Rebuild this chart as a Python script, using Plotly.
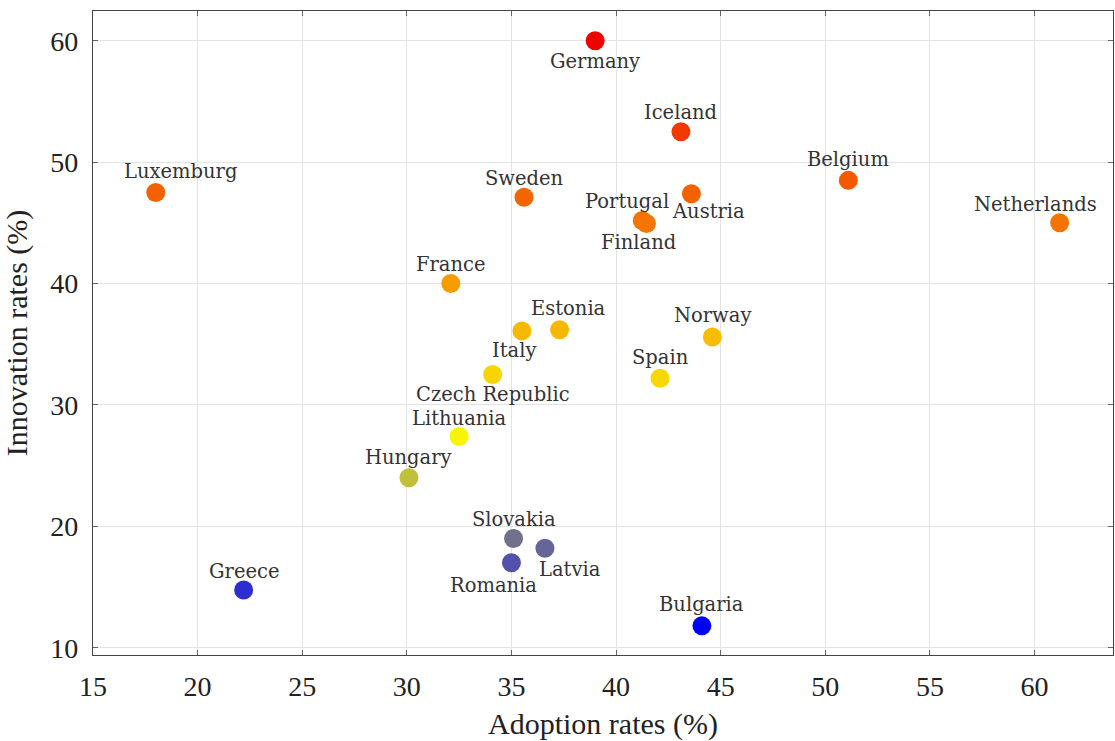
import plotly.graph_objects as go

countries = ["Germany", "Iceland", "Luxemburg", "Sweden", "Portugal", "Finland", "Austria",
             "Belgium", "Netherlands", "France", "Estonia", "Norway", "Italy", "Spain",
             "Czech Republic", "Lithuania", "Hungary", "Slovakia", "Latvia", "Romania",
             "Greece", "Bulgaria"]
adoption = [39.0, 43.1, 18.0, 35.6, 41.25, 41.45, 43.6,
            51.1, 61.2, 32.1, 37.3, 44.6, 35.5, 42.1,
            34.1, 32.5, 30.1, 35.1, 36.6, 35.0,
            22.2, 44.1]
innovation = [60.0, 52.5, 47.5, 47.1, 45.2, 44.95, 47.4,
              48.5, 45.0, 40.0, 36.2, 35.6, 36.1, 32.2,
              32.5, 27.4, 24.0, 19.0, 18.2, 17.0,
              14.75, 11.8]

# label placement (pixel offsets from the mark: dx right, dy down)
label_offsets = {
    "Germany": (0, 21), "Iceland": (0, -19), "Luxemburg": (25, -21), "Sweden": (0, -19),
    "Portugal": (-15, -19), "Finland": (-8, 19), "Austria": (17, 18), "Belgium": (0, -21),
    "Netherlands": (-24, -18), "France": (0, -19), "Estonia": (9, -21), "Norway": (0, -21),
    "Italy": (-8, 20), "Spain": (0, -21), "Czech Republic": (0, 20), "Lithuania": (0, -18),
    "Hungary": (0, -20), "Slovakia": (0, -19), "Latvia": (25, 21), "Romania": (-18, 23),
    "Greece": (0, -19), "Bulgaria": (0, -21),
}

colorscale = [[0.0, "rgb(0,0,255)"], [0.33, "rgb(250,250,0)"], [1.0, "rgb(240,0,0)"]]

fig = go.Figure()
fig.add_trace(go.Scatter(
    x=adoption, y=innovation, mode="markers", text=countries,
    marker=dict(size=19, color=innovation, colorscale=colorscale,
                cmin=min(innovation), cmax=max(innovation),
                line=dict(width=0)),
    showlegend=False, hoverinfo="text",
))

annotations = []
for c, xv, yv in zip(countries, adoption, innovation):
    dx, dy = label_offsets[c]
    annotations.append(dict(
        x=xv, y=yv, xref="x", yref="y", text=c, showarrow=False,
        xshift=dx, yshift=-dy, xanchor="center", yanchor="middle",
        borderpad=0,
        font=dict(family="DejaVu Serif", size=19.5, color="#333333"),
    ))

axis_common = dict(
    showgrid=True, gridcolor="#e3e3e3", gridwidth=1,
    showline=True, linecolor="#444444", linewidth=1.2, mirror="allticks",
    ticks="inside", ticklen=5, tickcolor="#666666", tickwidth=1,
    zeroline=False,
    tickfont=dict(family="Liberation Serif", size=28, color="#222222"),
)

fig.update_layout(
    width=1115, height=741,
    margin=dict(l=93, r=2, t=11, b=86),
    paper_bgcolor="white", plot_bgcolor="white",
    xaxis=dict(range=[15, 63.75], tickmode="array", tickvals=list(range(15, 61, 5)),
               title=dict(text="Adoption rates (%)", standoff=14,
                          font=dict(family="Liberation Serif", size=30, color="#222222")),
               ticklabelstandoff=6, **axis_common),
    yaxis=dict(range=[9.4, 62.45], tickmode="array", tickvals=list(range(10, 61, 10)),
               title=dict(text="Innovation rates (%)", standoff=16,
                          font=dict(family="Liberation Serif", size=30, color="#222222")),
               ticklabelstandoff=8, **axis_common),
    annotations=annotations,
)

fig.write_html("out.html", config={"displayModeBar": False},
               post_script="document.body.style.margin='0px';document.body.style.padding='0px';")
